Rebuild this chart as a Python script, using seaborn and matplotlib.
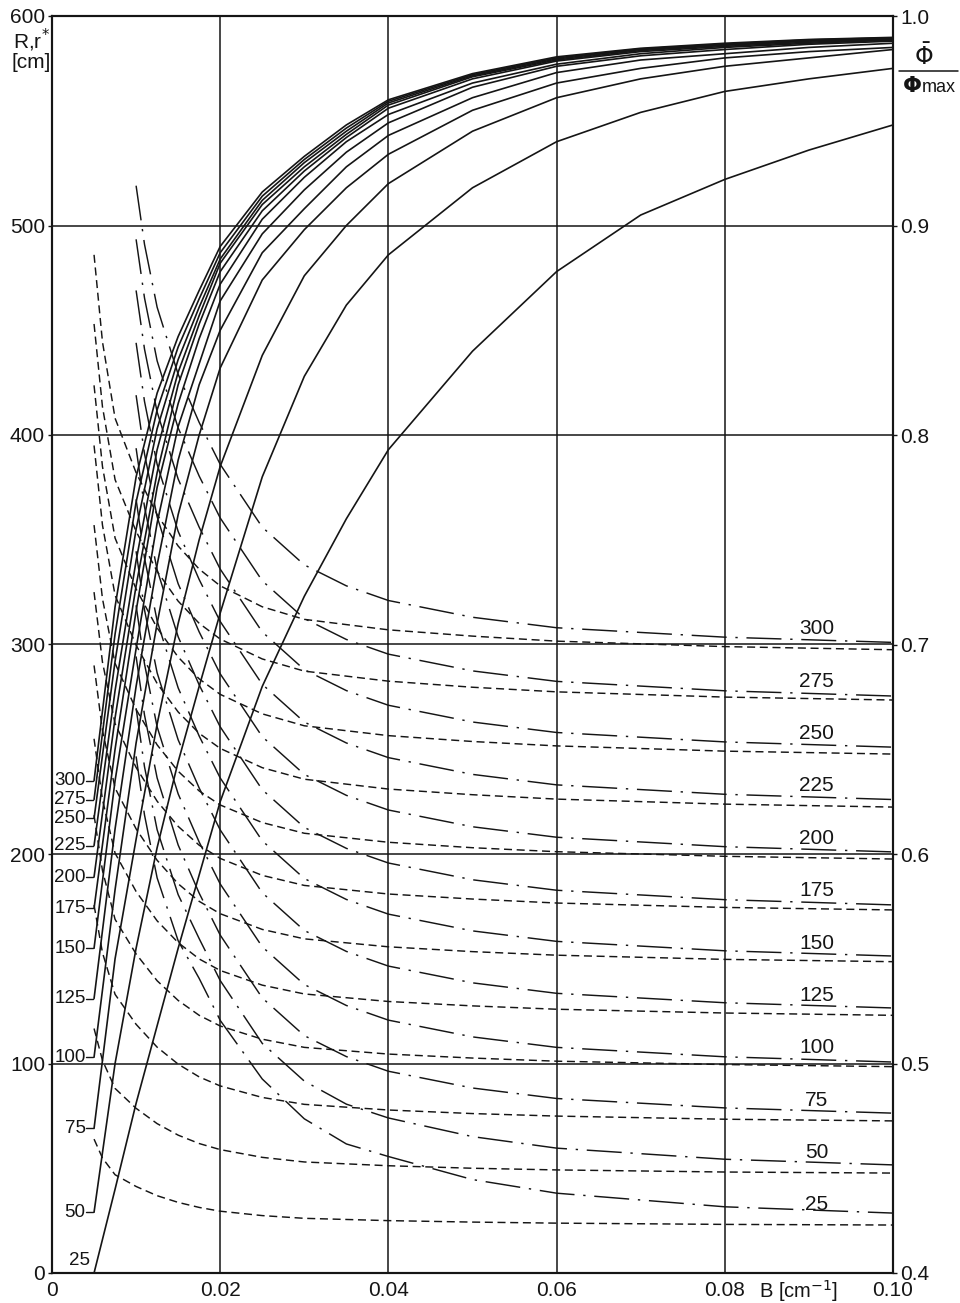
import pandas as pd
import seaborn as sns
import matplotlib.pyplot as plt
from matplotlib.lines import Line2D

sns.set_style('white')
plt.rcParams['font.family'] = ['Liberation Sans', 'DejaVu Sans']
plt.rcParams['mathtext.fontset'] = 'dejavusans'

radii = [25, 50, 75, 100, 125, 150, 175, 200, 225, 250, 275, 300]

# solid curves: mean/max flux ratio (right scale)
b_solid = [0.005, 0.0075, 0.01, 0.0125, 0.015, 0.0175, 0.02, 0.025, 0.03,
           0.035, 0.04, 0.05, 0.06, 0.07, 0.08, 0.09, 0.10]
phi_ratio = [
    [0.400, 0.440, 0.481, 0.518, 0.555, 0.590, 0.625, 0.680, 0.723, 0.760, 0.793, 0.840, 0.878, 0.905, 0.922, 0.936, 0.948],
    [0.429, 0.500, 0.555, 0.603, 0.644, 0.680, 0.715, 0.780, 0.828, 0.862, 0.886, 0.918, 0.940, 0.954, 0.964, 0.970, 0.975],
    [0.469, 0.550, 0.607, 0.662, 0.710, 0.750, 0.785, 0.838, 0.876, 0.900, 0.920, 0.945, 0.961, 0.970, 0.976, 0.980, 0.984],
    [0.503, 0.583, 0.653, 0.710, 0.762, 0.800, 0.832, 0.874, 0.898, 0.918, 0.934, 0.955, 0.968, 0.975, 0.980, 0.983, 0.985],
    [0.531, 0.612, 0.680, 0.738, 0.788, 0.824, 0.850, 0.887, 0.908, 0.928, 0.943, 0.961, 0.973, 0.979, 0.982, 0.985, 0.987],
    [0.555, 0.635, 0.698, 0.758, 0.804, 0.834, 0.864, 0.896, 0.917, 0.935, 0.949, 0.966, 0.976, 0.981, 0.984, 0.9865, 0.988],
    [0.574, 0.650, 0.716, 0.775, 0.815, 0.846, 0.872, 0.903, 0.923, 0.940, 0.953, 0.968, 0.977, 0.982, 0.985, 0.987, 0.9885],
    [0.589, 0.665, 0.728, 0.782, 0.824, 0.853, 0.878, 0.907, 0.926, 0.942, 0.956, 0.970, 0.9785, 0.983, 0.9855, 0.9875, 0.9888],
    [0.604, 0.678, 0.740, 0.793, 0.830, 0.857, 0.882, 0.910, 0.928, 0.9435, 0.9575, 0.971, 0.979, 0.9835, 0.986, 0.988, 0.989],
    [0.617, 0.692, 0.755, 0.803, 0.836, 0.861, 0.884, 0.912, 0.930, 0.945, 0.9585, 0.9715, 0.9795, 0.984, 0.9863, 0.9883, 0.9894],
    [0.626, 0.705, 0.768, 0.812, 0.842, 0.865, 0.887, 0.914, 0.9315, 0.9465, 0.9593, 0.972, 0.980, 0.9843, 0.9866, 0.9886, 0.9896],
    [0.635, 0.718, 0.780, 0.820, 0.847, 0.869, 0.890, 0.916, 0.933, 0.948, 0.960, 0.9725, 0.9805, 0.9846, 0.987, 0.9888, 0.9898],
]

# dashed curves: r* [cm] (left scale)
b_dash = [0.005, 0.006, 0.0075, 0.01, 0.0125, 0.015, 0.0175, 0.02, 0.025,
          0.03, 0.04, 0.05, 0.06, 0.08, 0.10]
r_dash = [
    [63.9, 54.9, 46.9, 41.3, 36.9, 33.7, 31.3, 29.5, 27.4, 26.1, 25.0, 24.3, 23.8, 23.2, 22.9],
    [116.7, 101.5, 88.1, 78.6, 71.3, 65.8, 61.8, 58.9, 55.2, 53.0, 51.2, 50.0, 49.2, 48.2, 47.7],
    [175.6, 152.9, 133.0, 118.7, 107.8, 99.7, 93.6, 89.3, 83.8, 80.5, 77.8, 76.1, 74.9, 73.4, 72.6],
    [218.5, 192.1, 168.8, 152.3, 139.5, 130.1, 123.0, 117.9, 111.6, 107.7, 104.5, 102.6, 101.1, 99.5, 98.5],
    [255.0, 226.0, 200.4, 182.1, 168.1, 157.7, 149.9, 144.4, 137.4, 133.2, 129.6, 127.5, 125.9, 124.1, 123.0],
    [290.0, 258.9, 231.5, 212.0, 197.0, 185.8, 177.4, 171.5, 164.0, 159.5, 155.7, 153.4, 151.7, 149.7, 148.6],
    [325.0, 291.6, 262.2, 241.3, 225.2, 213.2, 204.2, 197.9, 189.8, 185.0, 180.9, 178.5, 176.6, 174.5, 173.3],
    [357.0, 321.9, 291.0, 269.0, 252.1, 239.5, 230.1, 223.4, 215.0, 209.9, 205.6, 203.0, 201.1, 198.9, 197.6],
    [395.0, 357.0, 323.5, 299.7, 281.4, 267.8, 257.6, 250.4, 241.2, 235.7, 231.0, 228.3, 226.2, 223.8, 222.4],
    [423.7, 385.0, 350.8, 326.5, 307.9, 294.0, 283.6, 276.2, 266.9, 261.2, 256.5, 253.7, 251.6, 249.1, 247.7],
    [453.0, 413.5, 378.7, 354.0, 334.9, 320.7, 310.1, 302.6, 293.1, 287.3, 282.5, 279.6, 277.4, 274.9, 273.5],
    [486.0, 444.5, 408.0, 382.0, 362.0, 347.0, 336.0, 328.0, 318.0, 312.0, 307.0, 304.0, 301.6, 299.0, 297.5],
]

# dash-dot curves: R [cm] (left scale)
b_dd = [0.01, 0.011, 0.0125, 0.015, 0.0175, 0.02, 0.025, 0.03, 0.035, 0.04,
        0.05, 0.06, 0.08, 0.10]
r_dd = [
    [246.6, 218.6, 188.6, 158.6, 140.6, 120.6, 92.6, 73.6, 61.6, 55.6, 44.6, 38.1, 31.6, 28.6],
    [269.6, 241.6, 211.6, 180.6, 159.6, 139.6, 109.6, 91.6, 80.6, 74.0, 65.1, 59.6, 54.3, 51.6],
    [294.3, 266.3, 236.3, 204.3, 181.3, 161.3, 131.3, 113.3, 103.3, 96.3, 88.3, 83.3, 78.8, 76.3],
    [318.7, 290.7, 260.7, 228.7, 205.7, 185.7, 155.7, 137.7, 127.7, 120.7, 112.7, 107.7, 103.2, 100.7],
    [344.5, 316.5, 286.5, 254.5, 231.5, 211.5, 181.5, 163.5, 153.5, 146.5, 138.5, 133.5, 129.0, 126.5],
    [369.3, 341.3, 311.3, 279.3, 256.3, 236.3, 206.3, 188.3, 178.3, 171.3, 163.3, 158.3, 153.8, 151.3],
    [393.7, 365.7, 335.7, 303.7, 280.7, 260.7, 230.7, 212.7, 202.7, 195.7, 187.7, 182.7, 178.2, 175.7],
    [419.0, 391.0, 361.0, 329.0, 306.0, 286.0, 256.0, 238.0, 228.0, 221.0, 213.0, 208.0, 203.5, 201.0],
    [444.0, 416.0, 386.0, 354.0, 331.0, 311.0, 281.0, 263.0, 253.0, 246.0, 238.0, 233.0, 228.5, 226.0],
    [469.0, 441.0, 411.0, 379.0, 356.0, 336.0, 306.0, 288.0, 278.0, 271.0, 263.0, 258.0, 253.5, 251.0],
    [493.4, 465.4, 435.4, 403.4, 380.4, 360.4, 330.4, 312.4, 302.4, 295.4, 287.4, 282.4, 277.9, 275.4],
    [519.0, 491.0, 461.0, 429.0, 406.0, 386.0, 356.0, 338.0, 328.0, 321.0, 313.0, 308.0, 303.5, 301.0],
]

x_ticks = [0, 0.02, 0.04, 0.06, 0.08, 0.10]
x_labels = ['0', '0.02', '0.04', '0.06', '0.08', '0.10']
left_ticks = [0, 100, 200, 300, 400, 500, 600]
right_ticks = [0.4, 0.5, 0.6, 0.7, 0.8, 0.9, 1.0]

ink = '#151515'

rows = []
for fam, xs, table in [('dash', b_dash, r_dash), ('dashdot', b_dd, r_dd)]:
    for R, vals in zip(radii, table):
        for b, v in zip(xs, vals):
            rows.append({'family': fam, 'R': R, 'B': b, 'r': v})
df_r = pd.DataFrame(rows)

rows = []
for R, vals in zip(radii, phi_ratio):
    for b, v in zip(b_solid, vals):
        rows.append({'R': R, 'B': b, 'phi': v})
df_phi = pd.DataFrame(rows)

fig = plt.figure(figsize=(9.6, 13.03), dpi=100)
ax = fig.add_axes([52 / 960, 30 / 1303, 841 / 960, 1257 / 1303])

sns.lineplot(data=df_r, x='B', y='r', units='R', style='family', estimator=None,
             dashes={'dash': (5.5, 3.2), 'dashdot': (24, 6, 1.6, 6)},
             color=ink, lw=1.05, legend=False, ax=ax)

ax.set_xlim(0, 0.10)
ax.set_ylim(0, 600)
ax.set_xticks(x_ticks)
ax.set_xticklabels(x_labels)
ax.set_yticks(left_ticks)
ax.grid(True, color=ink, lw=1.1)
ax.set_axisbelow(True)
ax.set_xlabel('')
ax.set_ylabel('')
ax.tick_params(axis='both', labelsize=15, length=3, width=1, color=ink,
               labelcolor=ink, direction='out')
ax.tick_params(axis='y', pad=2)
ax.tick_params(axis='x', pad=3)
for s in ax.spines.values():
    s.set_color(ink)
    s.set_linewidth(1.5)

ax2 = ax.twinx()
sns.lineplot(data=df_phi, x='B', y='phi', units='R', estimator=None,
             color=ink, lw=1.2, legend=False, ax=ax2)
ax2.set_ylim(0.4, 1.0)
ax2.set_xlim(0, 0.10)
ax2.set_yticks(right_ticks)
ax2.set_yticklabels([f'{t:.1f}' for t in right_ticks])
ax2.set_ylabel('')
ax2.tick_params(axis='y', labelsize=15, length=3, width=1, color=ink,
                labelcolor=ink, pad=2)
for s in ax2.spines.values():
    s.set_color(ink)
    s.set_linewidth(1.5)

# labels of the solid curves at their start
for R, vals in zip(radii, phi_ratio):
    y0 = (vals[0] - 0.4) * 1000
    if R == 25:
        ax.text(0.0045, 6, str(R), ha='right', va='center', fontsize=13.5, color=ink)
        continue
    ax.text(0.0040, y0, str(R), ha='right', va='center', fontsize=13.5, color=ink)
    ax.plot([0.0041, 0.0049], [y0, y0], color=ink, lw=1.0)

# labels of the r*, R families at the right
for R in radii:
    ax.text(0.0909, R + 7.5, str(R), ha='center', va='center', fontsize=15, color=ink)

ax.annotate('B [cm$^{-1}$]', xy=(0.0888, 0), xycoords=('data', 'axes fraction'),
            xytext=(0, -4), textcoords='offset points', ha='center', va='top',
            fontsize=14.5, color=ink)

fig.text(31 / 960, 1 - 40 / 1303, 'R,r$^{*}$', ha='center', va='center',
         fontsize=15, color=ink)
fig.text(31 / 960, 1 - 63 / 1303, '[cm]', ha='center', va='center',
         fontsize=15, color=ink)

fig.text(924 / 960, 1 - 57 / 1303, r'$\bar{\mathit{\Phi}}$', ha='center', va='center',
         fontsize=17, color=ink)
fig.add_artist(Line2D([899 / 960, 958 / 960], [1 - 71 / 1303] * 2, color=ink, lw=1.1))
fig.text(912 / 960, 1 - 86 / 1303, r'$\mathbf{\Phi}$', ha='center', va='center',
         fontsize=16, color=ink)
fig.text(922 / 960, 1 - 88 / 1303, 'max', ha='left', va='center',
         fontsize=13, color=ink)

fig.savefig('out.png', dpi=100, facecolor='white')
